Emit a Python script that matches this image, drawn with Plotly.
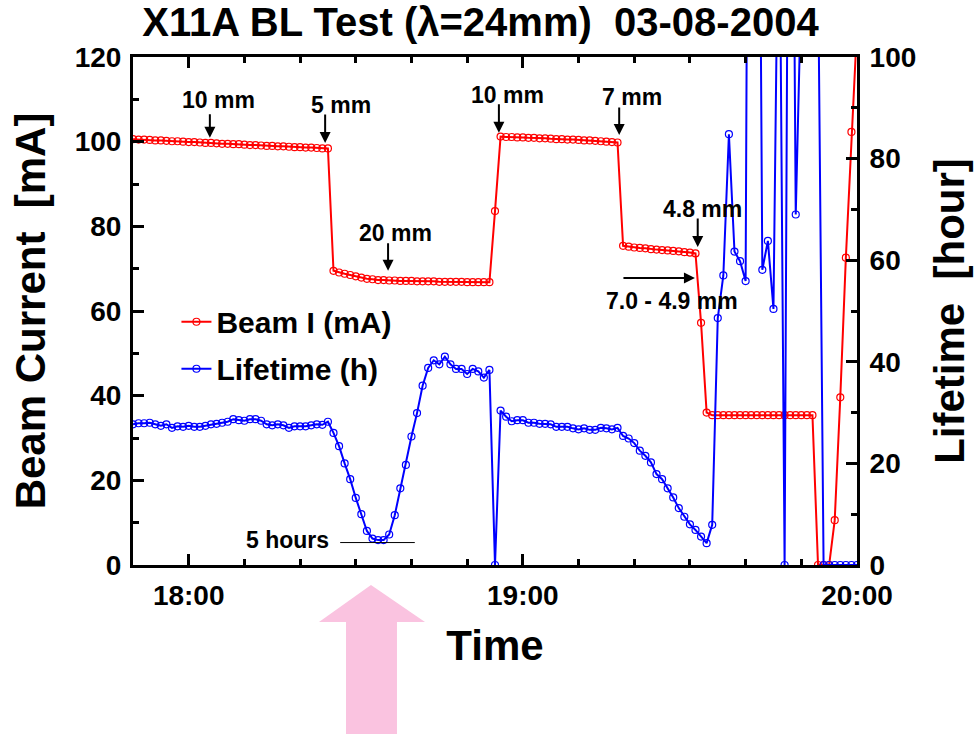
import plotly.graph_objects as go
import pandas as pd

# Sampling grid: one reading per minute, 17:50 -> 20:00 on 03-08-2004
time = pd.date_range("2004-03-08 17:50", "2004-03-08 20:00", freq="1min")

# Beam current [mA]
beam_current = [
    # 17:50 - 18:25  (10 mm / 5 mm)
    100.6, 100.5, 100.5, 100.4, 100.3, 100.3, 100.2, 100.1, 100.1, 100.0,
    99.9, 99.9, 99.8, 99.7, 99.7, 99.6, 99.5, 99.5, 99.4, 99.4,
    99.3, 99.2, 99.2, 99.1, 99.0, 99.0, 98.9, 98.9, 98.8, 98.7,
    98.7, 98.6, 98.6, 98.5, 98.4, 98.4,
    # 18:26 - 18:54  (20 mm)
    69.5, 69.1, 68.8, 68.5, 68.2, 67.9, 67.6, 67.5, 67.3, 67.3,
    67.2, 67.2, 67.1, 67.1, 67.1, 67.0, 67.0, 67.0, 67.0, 66.9,
    66.9, 66.9, 66.9, 66.9, 66.8, 66.8, 66.8, 66.8, 66.8,
    # 18:55
    83.6,
    # 18:56 - 19:17  (10 mm / 7 mm)
    101.2, 101.1, 101.1, 101.0, 101.0, 100.9, 100.9, 100.8, 100.8, 100.7,
    100.6, 100.6, 100.5, 100.5, 100.4, 100.3, 100.3, 100.2, 100.1, 100.0,
    99.9, 99.8,
    # 19:18 - 19:31  (7.0 - 4.9 mm)
    75.4, 75.2, 75.0, 74.9, 74.8, 74.6, 74.5, 74.4, 74.3, 74.2,
    74.1, 73.9, 73.8, 73.6,
    # 19:32 - 19:33
    57.2, 36.0,
    # 19:34 - 19:52
    35.4, 35.4, 35.4, 35.4, 35.4, 35.4, 35.4, 35.4, 35.4, 35.4,
    35.4, 35.4, 35.4, 35.4, 35.4, 35.4, 35.4, 35.4, 35.4,
    # 19:53 - 20:00  (beam dump / refill)
    0.0, 0.0, 0.0, 10.6, 39.6, 72.6, 102.3, 127.0,
]

# Lifetime [hour]
lifetime = [
    # 17:50 - 18:25
    27.7, 27.9, 27.9, 28.0, 27.7, 27.4, 27.7, 27.0, 27.3, 27.2,
    27.4, 27.2, 27.2, 27.4, 27.7, 27.8, 28.0, 28.2, 28.7, 28.5,
    28.4, 28.7, 28.7, 28.4, 27.7, 27.5, 27.7, 27.5, 27.0, 27.3,
    27.3, 27.3, 27.5, 27.7, 27.6, 28.2,
    # 18:26 - 18:54
    26.0, 23.4, 20.0, 16.9, 13.2, 10.0, 6.7, 5.2, 4.9, 4.9,
    6.0, 9.8, 15.1, 19.7, 25.3, 29.9, 35.3, 38.8, 40.3, 39.5,
    41.0, 39.5, 38.6, 38.6, 37.6, 38.6, 38.1, 36.9, 38.4,
    # 18:55
    0.0,
    # 18:56 - 19:17
    30.4, 29.2, 28.3, 28.5, 28.5, 28.0, 28.0, 27.8, 27.8, 27.7,
    27.2, 27.2, 27.2, 26.9, 26.7, 26.9, 26.6, 26.6, 27.0, 26.9,
    26.7, 27.0,
    # 19:18 - 19:40
    25.4, 24.9, 24.0, 22.5, 21.5, 20.2, 17.9, 16.9, 15.1, 13.3,
    11.2, 9.5, 8.0, 6.9, 5.6, 4.3, 7.9, 48.6, 57.0, 84.8,
    61.7, 59.8, 55.9,
    # 19:41 - 20:00
    300.0, 230.0, 58.1, 63.8, 50.4, 145.0, 0.0, 225.0, 69.0, 118.0,
    160.0, 140.0, 119.0, 0.0, 0.0, 0.0, 0.0, 0.0, 0.0, 0.0,
]

# Annotations: label, text minute offset from 17:50, text y [mA]
labels = ["10 mm", "5 mm", "20 mm", "10 mm", "7 mm", "4.8 mm", "7.0 - 4.9 mm"]
label_min = [15.4, 37.3, 47.2, 67.3, 89.6, 102.2, 96.8]
label_y = [109.9, 108.7, 78.4, 111.0, 110.6, 84.1, 62.4]
# arrows: tip minute, tip y [mA], tail offset in px
arrow_min = [13.8, 34.5, 45.8, 65.7, 87.3, 101.4, 100.9]
arrow_y = [100.9, 99.7, 69.5, 102.1, 101.6, 75.1, 67.8]
arrow_ax = [0, 0, 0, 0, 0, 0, -73]
arrow_ay = [-25, -30, -29, -30, -29, -30, 0]

base = pd.Timestamp("2004-03-08 17:50")


def at(m):
    return base + pd.Timedelta(seconds=m * 60)


FONT = "Liberation Sans, Arial, Helvetica, sans-serif"

fig = go.Figure()
fig.add_trace(go.Scatter(
    x=time, y=beam_current, name="Beam I (mA)", mode="lines+markers",
    legendgroup="a",
    line=dict(color="#FF0000", width=2),
    marker=dict(symbol="circle-open", size=7, color="#FF0000", line=dict(width=1.2)),
    yaxis="y",
))
fig.add_trace(go.Scatter(
    x=time, y=lifetime, name="Lifetime (h)", mode="lines+markers",
    legendgroup="b",
    line=dict(color="#0000FF", width=2),
    marker=dict(symbol="circle-open", size=7, color="#0000FF", line=dict(width=1.2)),
    yaxis="y2",
))

annotations = []
for lab, m, yv in zip(labels, label_min, label_y):
    annotations.append(dict(
        x=at(m), y=yv, xref="x", yref="y", text=lab, showarrow=False,
        font=dict(family=FONT, size=23, color="black", weight="bold"),
    ))
for m, yv, ax, ay in zip(arrow_min, arrow_y, arrow_ax, arrow_ay):
    annotations.append(dict(
        x=at(m), y=yv, xref="x", yref="y", text="", showarrow=True,
        ax=ax, ay=ay, arrowhead=2, arrowsize=1.1, arrowwidth=2, arrowcolor="black",
        standoff=0,
    ))
annotations.append(dict(
    x=at(27.8), y=5.9, xref="x", yref="y", text="5 hours", showarrow=False,
    font=dict(family=FONT, size=23, color="black", weight="bold"),
))

shapes = [
    dict(type="line", xref="x", yref="y", x0=at(37.2), x1=at(50.6), y0=5.3, y1=5.3,
         line=dict(color="black", width=1)),
    # pink arrow below the time axis
    dict(type="path", xref="paper", yref="paper",
         path="M 0.3287 -0.0394 L 0.4033 -0.1122 L 0.3646 -0.1122 L 0.3646 -0.36 "
              "L 0.2942 -0.36 L 0.2942 -0.1122 L 0.2569 -0.1122 Z",
         fillcolor="#FAC3E0", line=dict(width=0), layer="above"),
]

axis_common = dict(
    showline=True, linewidth=3, linecolor="black", showgrid=False, zeroline=False,
    ticks="inside", ticklen=11, tickwidth=3, tickcolor="black",
    tickfont=dict(family=FONT, size=28, color="black", weight="bold"),
)
title_font = dict(family=FONT, size=42, color="black", weight="bold")

fig.update_layout(
    width=975, height=734,
    margin=dict(l=133, r=118, t=57, b=169, autoexpand=False),
    paper_bgcolor="white", plot_bgcolor="white",
    font=dict(family=FONT, color="black"),
    title=dict(text="X11A BL Test (λ=24mm)\u00a0 03-08-2004", x=0.48, xref="paper",
               y=0.97, yanchor="middle", xanchor="center",
               font=dict(family=FONT, size=40, color="black", weight="bold")),
    xaxis=dict(
        type="date", range=[time[0], time[-1]], tickformat="%H:%M",
        tick0="2004-03-08 18:00", dtick=3600000, mirror="ticks",
        ticklabelstandoff=3,
        minor=dict(dtick=600000, ticks="inside", ticklen=6, tickwidth=3, tickcolor="black"),
        title=dict(text="Time", standoff=22, font=title_font),
        **axis_common,
    ),
    yaxis=dict(
        range=[0, 120], dtick=20, ticklabelstandoff=3,
        minor=dict(dtick=10, ticks="inside", ticklen=6, tickwidth=3, tickcolor="black"),
        title=dict(text="Beam Current\u00a0 [mA]", standoff=16, font=title_font),
        **axis_common,
    ),
    yaxis2=dict(
        range=[0, 100], dtick=20, overlaying="y", side="right", ticklabelstandoff=4,
        minor=dict(dtick=10, ticks="inside", ticklen=6, tickwidth=3, tickcolor="black"),
        title=dict(text="Lifetime\u00a0 [hour]", standoff=20, font=title_font),
        **axis_common,
    ),
    legend=dict(
        x=0.06, y=0.53, xanchor="left", yanchor="top", bgcolor="rgba(0,0,0,0)",
        traceorder="grouped", tracegroupgap=5,
        font=dict(family=FONT, size=30, color="black", weight="bold"),
    ),
    annotations=annotations,
    shapes=shapes,
)

fig.write_html("out.html")
